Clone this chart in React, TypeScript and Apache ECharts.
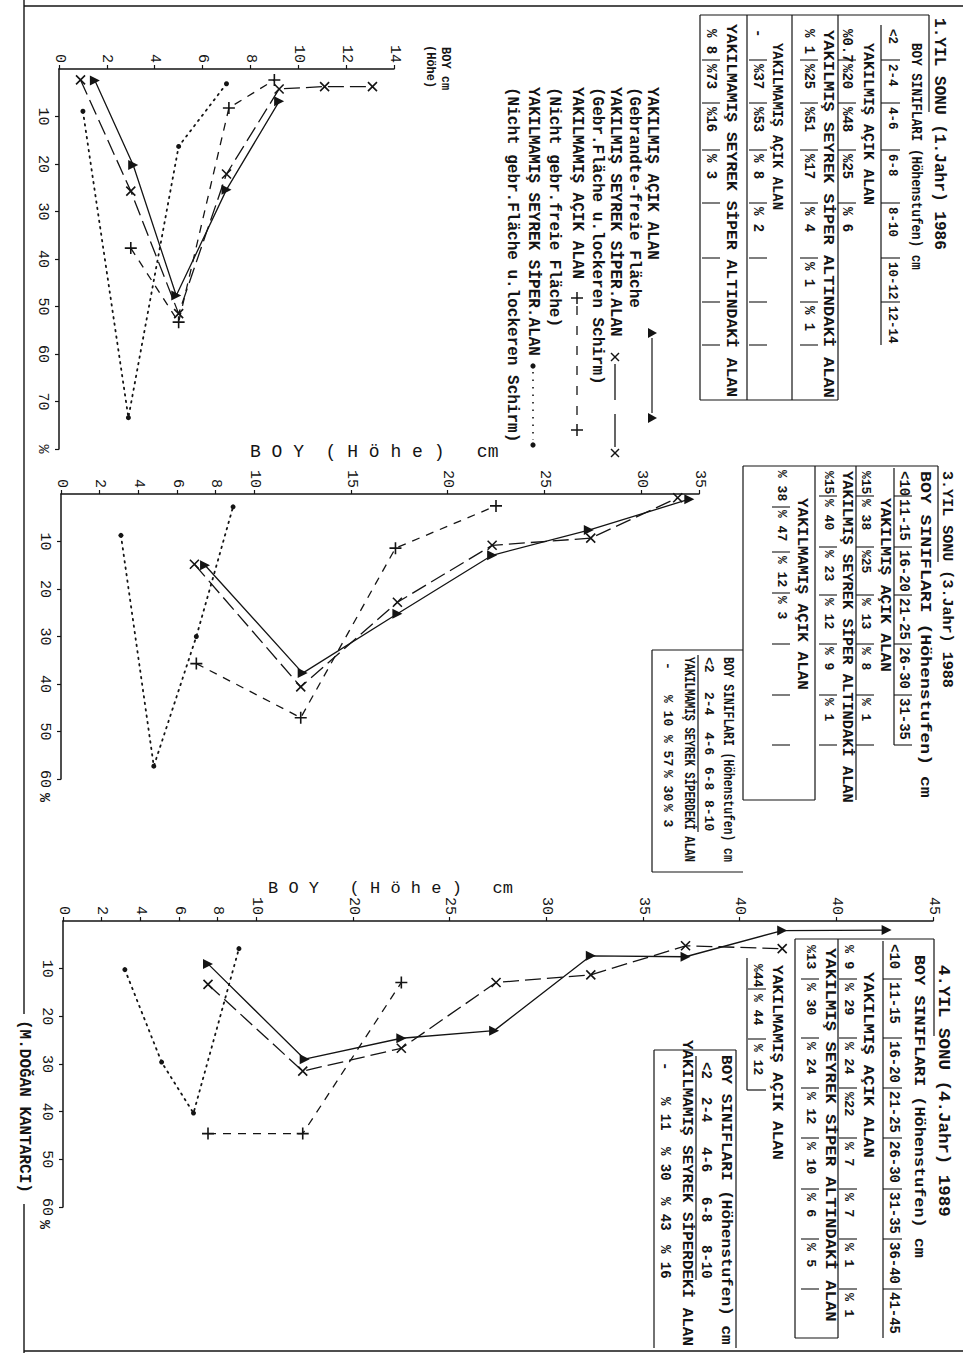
import React, { useEffect, useRef } from 'react';
import * as echarts from 'echarts';

const INK = '#141414';
const MONO = "'Liberation Mono', 'DejaVu Sans Mono', monospace";

// ---------------- series values : [height (cm), share (%)] ----------------
// 1.YIL SONU (1986)
const p1BurnedOpen = [[1.5, 2.4], [3.1, 20.2], [4.9, 47.7], [7.0, 25.4], [9.2, 6.8]];
const p1BurnedShelter = [[0.9, 2.3], [3.0, 25.7], [5.0, 51.5], [7.0, 22.1], [9.2, 4.2], [11.1, 3.7], [13.1, 3.7]];
const p1UnburnedOpen = [[3.0, 37.7], [5.0, 53.3], [7.1, 8.2], [9.0, 2.3]];
const p1UnburnedShelter = [[1.0, 8.9], [2.9, 73.4], [5.0, 16.3], [7.0, 3.1]];
// 3.YIL SONU (1988)
const p2BurnedOpen = [[7.45, 15], [12.5, 37.7], [17.4, 25.2], [22.3, 12.9], [27.3, 7.6], [32.5, 1.1]];
const p2BurnedShelter = [[6.9, 14.8], [12.4, 40.6], [17.4, 22.8], [22.3, 10.8], [27.4, 9.3], [31.9, 0.8]];
const p2UnburnedOpen = [[7.0, 35.7], [12.4, 47.1], [17.3, 11.4], [22.5, 2.5]];
const p2UnburnedShelter = [[3.1, 8.7], [4.8, 57.3], [7.0, 30], [8.9, 2.7]];
// 4.YIL SONU (1989)
const p3BurnedOpen = [[7.5, 9], [12.5, 29], [17.5, 24.6], [22.3, 23], [27.3, 7.3], [32.2, 7.5], [37.2, 2], [42.6, 1.9]];
const p3BurnedShelter = [[7.5, 13.3], [12.4, 31.5], [17.5, 26.7], [22.4, 12.9], [27.3, 11.3], [32.2, 5.2], [37.2, 5.8]];
const p3UnburnedOpen = [[7.5, 44.6], [12.4, 44.6], [17.5, 12.9]];
const p3UnburnedShelter = [[3.2, 10.2], [5.1, 29.6], [6.75, 40.3], [9.1, 5.8]];

// ---------------- axis ticks and labels ----------------
const p1HeightTicks = [0, 2, 4, 6, 8, 10, 12, 14];
const p1HeightLabels = ['0', '2', '4', '6', '8', '10', '12', '14'];
const p1PctTicks = [10, 20, 30, 40, 50, 60, 70, 80];
const p1PctLabels = ['10', '20', '30', '40', '50', '60', '70', '%'];
const p2HeightTicks = [0, 2, 4, 6, 8, 10, 15, 20, 25, 30, 33];
const p2HeightLabels = ['0', '2', '4', '6', '8', '10', '15', '20', '25', '30', '35'];
const p3HeightTicks = [0, 2, 4, 6, 8, 10, 15, 20, 25, 30, 35, 40, 45];
const p3HeightLabels = ['0', '2', '4', '6', '8', '10', '20', '25', '30', '35', '40', '40', '45'];
const p23PctTicks = [10, 20, 30, 40, 50, 60];
const p23PctLabels = ['10', '20', '30', '40', '50', '60'];

// ---------------- legend texts ----------------
const legendLines = [
  'YAKILMIŞ AÇIK ALAN',
  '(Gebrandte-freie Fläche',
  'YAKILMIŞ SEYREK SİPER.ALAN',
  '(Gebr.Fläche u.lockeren Schirm)',
  'YAKILMAMIŞ AÇIK ALAN',
  '(Nicht gebr.freie Fläche)',
  'YAKILMAMIŞ SEYREK SİPER.ALAN',
  '(Nicht gebr.Fläche u.lockeren Schirm)',
];
const seriesNames = ['YAKILMIŞ AÇIK ALAN', 'YAKILMIŞ SEYREK SİPER.ALAN', 'YAKILMAMIŞ AÇIK ALAN', 'YAKILMAMIŞ SEYREK SİPER.ALAN'];

// ---------------- tables ----------------
const tHeader = 'BOY SINIFLARI (Höhenstufen) cm';
const rowBurnedOpen = 'YAKILMIŞ AÇIK ALAN';
const rowBurnedShelter = 'YAKILMIŞ SEYREK SİPER ALTINDAKİ ALAN';
const rowUnburnedOpen = 'YAKILMAMIŞ AÇIK ALAN';
const rowUnburnedShelter = 'YAKILMAMIŞ SEYREK SİPER ALTINDAKİ ALAN';
const rowUnburnedShelter2 = 'YAKILMAMIŞ SEYREK SİPERDEKİ ALAN';

const t1Title = '1.YIL SONU (1.Jahr) 1986';
const t1Classes = ['<2', '2-4', '4-6', '6-8', '8-10', '10-12', '12-14'];
const t1Row1 = ['%0.7', '%20', '%48', '%25', '% 6'];
const t1Row2 = ['% 1', '%25', '%51', '%17', '% 4', '% 1', '% 1'];
const t1Row3 = ['-', '%37', '%53', '% 8', '% 2'];
const t1Row4 = ['% 8', '%73', '%16', '% 3'];

const t2Title = '3.YIL SONU (3.Jahr) 1988';
const t2Classes = ['<10', '11-15', '16-20', '21-25', '26-30', '31-35'];
const t2Row1 = ['%15', '% 38', '%25', '% 13', '% 8', '% 1'];
const t2Row2 = ['%15', '% 40', '% 23', '% 12', '% 9', '% 1'];
const t2Row3 = ['% 38', '% 47', '% 12', '% 3'];
const t2SubClasses = ['<2', '2-4', '4-6', '6-8', '8-10'];
const t2SubRow = ['-', '% 10', '% 57', '% 30', '% 3'];

const t3Title = '4.YIL SONU (4.Jahr) 1989';
const t3Classes = ['<10', '11-15', '16-20', '21-25', '26-30', '31-35', '36-40', '41-45'];
const t3Row1 = ['% 9', '% 29', '% 24', '%22', '% 7', '% 7', '% 1', '% 1'];
const t3Row2 = ['%13', '% 30', '% 24', '% 12', '% 10', '% 6', '% 5'];
const t3Row3 = ['%44', '% 44', '% 12'];
const t3SubClasses = ['<2', '2-4', '4-6', '6-8', '8-10'];
const t3SubRow = ['-', '% 11', '% 30', '% 43', '% 16'];

const author = '(M.DOĞAN KANTARCI)';

// ---------------- helpers ----------------
const X_PATH = 'path://M0,0L10,10M10,0L0,10';
const PLUS_PATH = 'path://M5,0L5,10M0,5L10,5';

// vertical (rotated) typewriter text; optional target length along the reading direction
function vt(x: number, y: number, text: string, size = 15, weight: string = 'bold', len?: number): any {
  const natural = text.length * 0.6 * size;
  return {
    type: 'text', x, y, rotation: -Math.PI / 2, silent: true, z: 20,
    scaleX: len ? len / natural : 1,
    style: {
      text, fill: INK, fontFamily: MONO, fontSize: size, fontWeight: weight,
      textAlign: 'left', align: 'left', textVerticalAlign: 'middle', verticalAlign: 'middle',
    },
  };
}
function vtL(x: number, y0: number, y1: number, text: string, size = 15): any {
  return vt(x, y0, text, size, 'bold', y1 - y0);
}
function ht(x: number, y: number, text: string, size = 17): any {
  return {
    type: 'text', x, y, silent: true, z: 20,
    style: { text, fill: INK, fontFamily: MONO, fontSize: size, textAlign: 'left', align: 'left', textVerticalAlign: 'middle', verticalAlign: 'middle' },
  };
}
function ln(x1: number, y1: number, x2: number, y2: number, w = 1.2, dash?: number[]): any {
  return { type: 'line', silent: true, z: 15, shape: { x1, y1, x2, y2 }, style: { stroke: INK, lineWidth: w, lineDash: dash || null } };
}
function valueRow(els: any[], x: number, starts: number[], values: string[], seps: number[], size = 14, pad = 4) {
  values.forEach((v, i) => els.push(vt(x, starts[i] + pad, v, size)));
  seps.forEach((y) => els.push(ln(x - 9, y, x + 9, y, 1.1)));
}

function tables(): any[] {
  const els: any[] = [];
  // ----- table 1 -----
  const b1 = [25, 60, 103, 150, 203, 258, 302, 345];
  els.push(vtL(939, 18, 250, t1Title, 16));
  els.push(ln(929, 15, 929, 112));
  els.push(vtL(916, 43, 270, tHeader, 14));
  t1Classes.forEach((c, i) => els.push(vt(892, b1[i] + 4, c, 12.5)));
  els.push(ln(881, 25, 881, 345));
  b1.slice(1, 7).forEach((y) => els.push(ln(881, y, 900, y, 1.1)));
  els.push(vtL(867, 43, 205, rowBurnedOpen, 15));
  valueRow(els, 847, b1, t1Row1, b1.slice(1, 5));
  els.push(ln(838, 15, 838, 400));
  els.push(vtL(828, 30, 398, rowBurnedShelter, 15));
  valueRow(els, 809, b1, t1Row2, b1.slice(1, 8));
  els.push(ln(792, 15, 792, 400));
  els.push(vtL(777, 43, 210, rowUnburnedOpen, 15));
  valueRow(els, 758, b1, t1Row3, b1.slice(1, 8));
  els.push(ln(747, 15, 747, 400));
  els.push(vtL(731, 24, 397, rowUnburnedShelter, 15));
  valueRow(els, 711, b1, t1Row4, b1.slice(1, 8));
  els.push(ln(700, 15, 700, 400), ln(700, 15, 929, 15), ln(700, 400, 838, 400));

  // ----- table 2 -----
  const b2 = [468, 496, 547, 595, 644, 695, 745];
  els.push(vtL(947, 471, 688, t2Title, 15));
  els.push(ln(938, 466, 938, 562));
  els.push(vtL(925, 471, 798, tHeader, 15));
  t2Classes.forEach((c, i) => els.push(vt(904, b2[i] + 3, c, 14)));
  els.push(ln(894, 468, 894, 745));
  b2.slice(1).forEach((y) => els.push(ln(894, y, 912, y, 1.1)));
  els.push(vtL(885, 498, 672, rowBurnedOpen, 15));
  valueRow(els, 865, b2, t2Row1, b2.slice(1), 13, 3);
  els.push(ln(856, 466, 856, 800));
  els.push(vtL(847, 471, 803, rowBurnedShelter, 15));
  valueRow(els, 828, b2, t2Row2, b2.slice(1), 13, 3);
  els.push(ln(815, 466, 815, 800));
  els.push(vtL(802, 498, 690, rowUnburnedOpen, 15));
  valueRow(els, 781, [467, 507, 553, 593, 644, 695], t2Row3, [507, 552, 593, 644, 695, 745], 13, 3);
  els.push(ln(743, 466, 743, 800), ln(743, 466, 938, 466), ln(743, 800, 815, 800));
  // sub-table 2
  const s2c = [657, 692, 732, 767, 800];
  const s2v = [662, 695, 735, 770, 804];
  els.push(ln(652, 650, 652, 872), ln(652, 650, 743, 650), ln(652, 872, 743, 872));
  els.push(vtL(728, 657, 862, tHeader, 14));
  t2SubClasses.forEach((c, i) => els.push(vt(708, s2c[i], c, 13)));
  els.push(ln(698, 655, 698, 832));
  els.push(vtL(688, 657, 862, rowUnburnedShelter2, 14));
  t2SubRow.forEach((v, i) => els.push(vt(667, s2v[i], v, 13)));

  // ----- table 3 -----
  const b3 = [941, 979, 1038, 1088, 1138, 1189, 1239, 1289, 1338];
  els.push(vtL(943, 965, 1217, t3Title, 16));
  els.push(ln(934, 939, 934, 1036));
  els.push(vtL(919, 955, 1258, tHeader, 15));
  t3Classes.forEach((c, i) => els.push(vt(894, b3[i] + 3, c, 14)));
  els.push(ln(883, 941, 883, 1338));
  b3.slice(1, 8).forEach((y) => els.push(ln(883, y, 902, y, 1.1)));
  els.push(vtL(868, 972, 1158, rowBurnedOpen, 15));
  valueRow(els, 848, b3, t3Row1, b3.slice(1, 8), 13.5);
  els.push(ln(838, 939, 838, 1338));
  els.push(vtL(830, 948, 1322, rowBurnedShelter, 15));
  valueRow(els, 810, b3, t3Row2, b3.slice(1, 8), 13.5);
  els.push(ln(795, 939, 795, 1338), ln(795, 939, 934, 939), ln(795, 1338, 838, 1338));
  els.push(vtL(777, 965, 1160, rowUnburnedOpen, 15));
  valueRow(els, 757, [961, 991, 1041], t3Row3, [989, 1039], 13, 3);
  els.push(ln(747, 958, 747, 1090), ln(747, 1090, 766, 1090));
  // sub-table 3
  const s3 = [1062, 1097, 1147, 1197, 1245];
  els.push(ln(654, 1050, 654, 1348), ln(654, 1050, 736, 1050), ln(736, 1050, 736, 1348));
  els.push(vtL(726, 1055, 1345, tHeader, 15));
  t3SubClasses.forEach((c, i) => els.push(vt(706, s3[i], c, 14)));
  els.push(ln(696, 1056, 696, 1280));
  els.push(vtL(687, 1040, 1346, rowUnburnedShelter2, 15));
  t3SubRow.forEach((v, i) => els.push(vt(665, s3[i], v, 14)));
  return els;
}

function tri(x: number, y: number): any {
  return { type: 'polygon', silent: true, z: 20, shape: { points: [[x - 4, y - 5], [x + 5, y], [x - 4, y + 5]] }, style: { fill: INK } };
}
function cross(x: number, y: number): any[] {
  return [ln(x - 4, y - 4, x + 4, y + 4, 1.5), ln(x + 4, y - 4, x - 4, y + 4, 1.5)];
}
function plus(x: number, y: number): any[] {
  return [ln(x - 6, y, x + 6, y, 1.5), ln(x, y - 6, x, y + 6, 1.5)];
}

function legend(): any[] {
  const xs = [652, 634, 615, 597, 577, 554, 533, 512];
  const els: any[] = legendLines.map((t, i) => vt(xs[i], 87, t, 16));
  els.push(tri(652, 333), ln(652, 338, 652, 413), tri(652, 418));
  els.push(...cross(615, 357), ln(615, 364, 615, 447, 1.3, [36, 14]), ...cross(615, 453));
  els.push(...plus(577, 298), ln(577, 306, 577, 422, 1.3, [9, 11]), ...plus(577, 430));
  els.push({ type: 'circle', silent: true, z: 20, shape: { cx: 533, cy: 366, r: 2.6 }, style: { fill: INK } });
  els.push(ln(533, 372, 533, 440, 1.6, [1.5, 6]));
  els.push({ type: 'circle', silent: true, z: 20, shape: { cx: 533, cy: 445, r: 2.6 }, style: { fill: INK } });
  return els;
}

function frame(): any[] {
  return [
    ln(24, 0, 24, 1014, 1.4),
    ln(24, 1204, 24, 1353, 1.4),
    ln(24, 6, 963, 6, 1.4),
    ln(24, 1351, 963, 1351, 1.4),
    vt(24, 1020, author, 16),
    // axis titles
    vt(445, 47, 'BOY cm', 12),
    vt(430, 45, '(Höhe)', 12),
    ht(250, 452, 'B O Y  ( H ö h e )   cm', 18),
    ht(268, 888, 'B O Y   ( H ö h e )   cm', 17),
    vt(43, 793, '%', 15, 'bold'),
    vt(43, 1220, '%', 15, 'bold'),
  ];
}

const kinds: any[] = [
  { symbol: 'triangle', symbolSize: 10, symbolRotate: -90, lineStyle: { color: INK, width: 1.3, type: 'solid' }, itemStyle: { color: INK } },
  { symbol: X_PATH, symbolSize: 9, lineStyle: { color: INK, width: 1.3, type: [16, 6] }, itemStyle: { color: INK, borderColor: INK, borderWidth: 1.6 } },
  { symbol: PLUS_PATH, symbolSize: 12, lineStyle: { color: INK, width: 1.3, type: [8, 7] }, itemStyle: { color: INK, borderColor: INK, borderWidth: 1.6 } },
  { symbol: 'circle', symbolSize: 5, lineStyle: { color: INK, width: 1.8, type: [1.5, 5], cap: 'round' }, itemStyle: { color: INK } },
];

const panels = [
  { grid: { left: 59, top: 69, width: 335, height: 380 }, xMax: 14, yMax: 80, hT: p1HeightTicks, hL: p1HeightLabels, pT: p1PctTicks, pL: p1PctLabels,
    data: [p1BurnedOpen, p1BurnedShelter, p1UnburnedOpen, p1UnburnedShelter] },
  { grid: { left: 61, top: 494, width: 638, height: 285 }, xMax: 33, yMax: 60, hT: p2HeightTicks, hL: p2HeightLabels, pT: p23PctTicks, pL: p23PctLabels,
    data: [p2BurnedOpen, p2BurnedShelter, p2UnburnedOpen, p2UnburnedShelter] },
  { grid: { left: 63, top: 921, width: 870, height: 286 }, xMax: 45, yMax: 60, hT: p3HeightTicks, hL: p3HeightLabels, pT: p23PctTicks, pL: p23PctLabels,
    data: [p3BurnedOpen, p3BurnedShelter, p3UnburnedOpen, p3UnburnedShelter] },
];

function buildOption(): any {
  const axisLine = { show: true, lineStyle: { color: INK, width: 1.5 } };
  const labelFont = { fontFamily: MONO, fontSize: 15, color: INK };
  return {
    animation: false,
    backgroundColor: '#ffffff',
    grid: panels.map((p) => ({ ...p.grid, containLabel: false })),
    xAxis: panels.map((p, i) => ({
      gridIndex: i, type: 'value', position: 'top', min: 0, max: p.xMax,
      axisLine, splitLine: { show: false },
      axisTick: { show: true, customValues: p.hT, length: 4, lineStyle: { color: INK, width: 1.2 } },
      axisLabel: { ...labelFont, customValues: p.hT, rotate: -90, margin: 6,
        formatter: (v: number) => { const k = p.hT.indexOf(v); return k >= 0 ? p.hL[k] : ''; } },
    })),
    yAxis: panels.map((p, i) => ({
      gridIndex: i, type: 'value', inverse: true, min: 0, max: p.yMax,
      axisLine, splitLine: { show: false },
      axisTick: { show: true, customValues: p.pT, length: 4, lineStyle: { color: INK, width: 1.2 } },
      axisLabel: { ...labelFont, customValues: p.pT, rotate: -90, margin: 9,
        formatter: (v: number) => { const k = p.pT.indexOf(v); return k >= 0 ? p.pL[k] : ''; } },
    })),
    series: panels.flatMap((p, i) => p.data.map((d, k) => ({
      type: 'line', name: seriesNames[k], xAxisIndex: i, yAxisIndex: i, data: d,
      silent: true, showSymbol: true, z: 5,
      ...kinds[k],
    }))),
    graphic: { elements: [...legend(), ...tables(), ...frame()] },
  };
}

export default function App() {
  const ref = useRef<HTMLDivElement>(null);
  useEffect(() => {
    if (!ref.current) return;
    const chart = echarts.init(ref.current, undefined, { renderer: 'svg' });
    chart.setOption(buildOption());
    return () => chart.dispose();
  }, []);
  return (
    <div
      ref={ref}
      style={{ position: 'absolute', left: 0, top: 0, width: 963, height: 1354, background: '#fff' }}
    />
  );
}
